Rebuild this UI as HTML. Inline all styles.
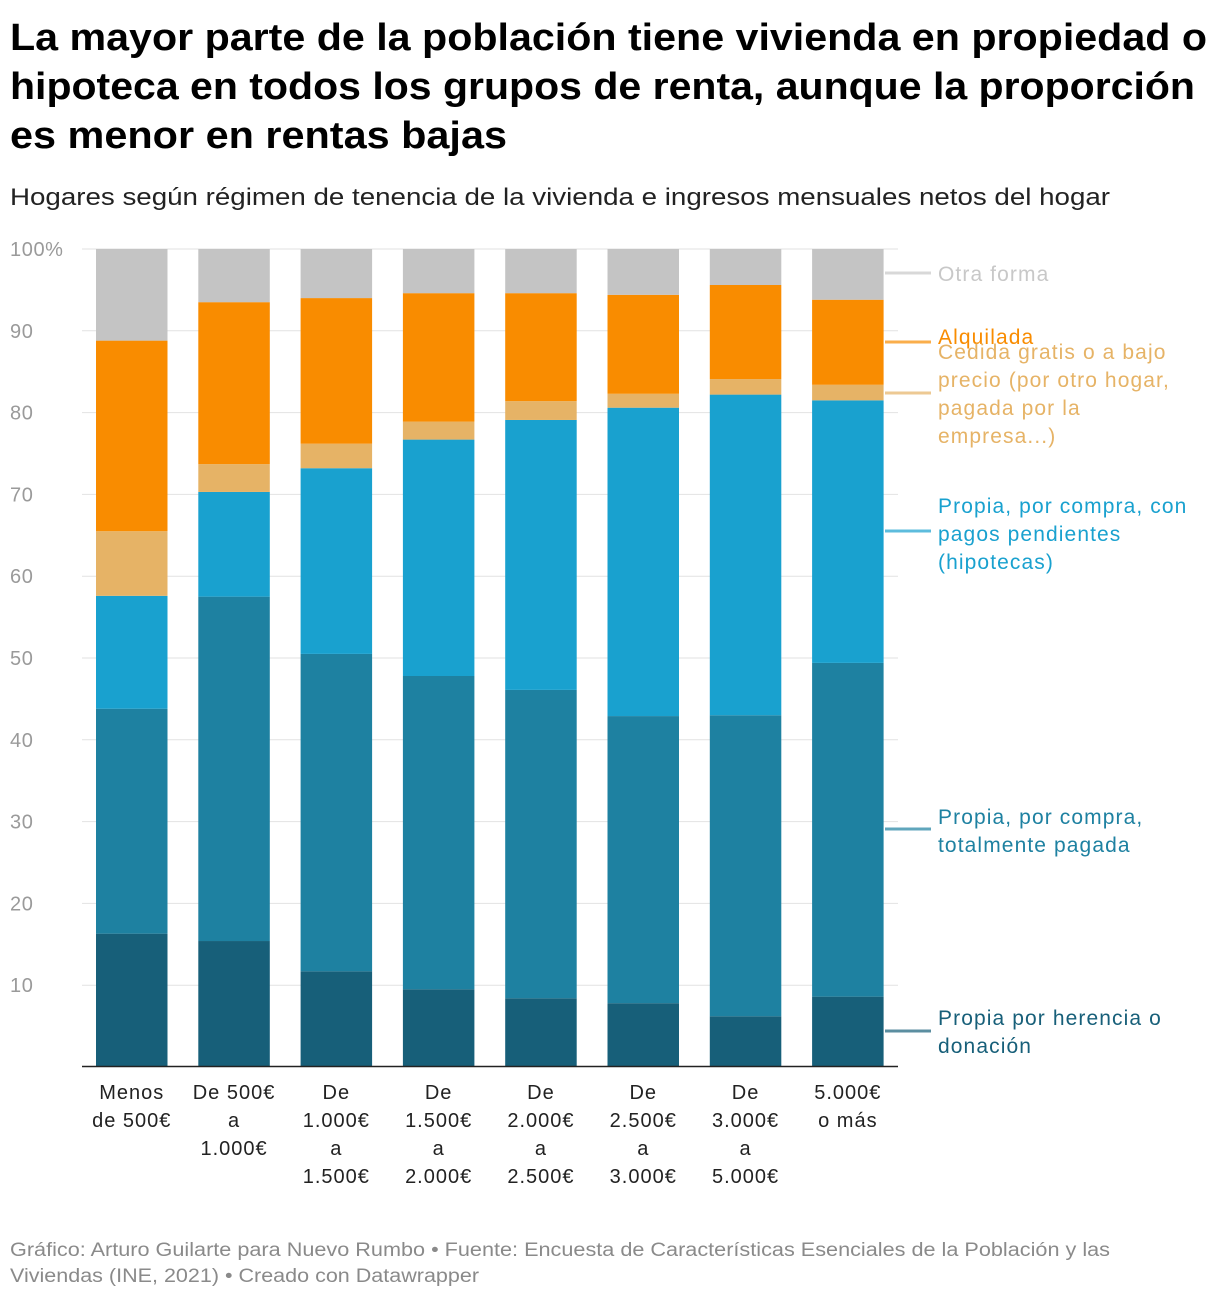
<!DOCTYPE html>
<html><head><meta charset="utf-8"><style>
body{margin:0;background:#fff;width:1220px;height:1298px;overflow:hidden;font-family:"Liberation Sans",sans-serif}
</style></head><body>
<svg id="c" width="1220" height="1298" xmlns="http://www.w3.org/2000/svg" font-family="Liberation Sans, sans-serif">
<g font-weight="bold" font-size="38" fill="#000">
<text x="10" y="50" textLength="1197" lengthAdjust="spacingAndGlyphs">La mayor parte de la población tiene vivienda en propiedad o</text>
<text x="10" y="99" textLength="1185" lengthAdjust="spacingAndGlyphs">hipoteca en todos los grupos de renta, aunque la proporción</text>
<text x="10" y="148" textLength="497" lengthAdjust="spacingAndGlyphs">es menor en rentas bajas</text>
</g>
<text x="10" y="205" font-size="24" fill="#222" textLength="1100" lengthAdjust="spacingAndGlyphs">Hogares según régimen de tenencia de la vivienda e ingresos mensuales netos del hogar</text>
<g id="grid"></g><g id="bars"></g><g id="xl"></g><g id="leg"></g>
<g font-size="19" fill="#8a8a8a">
<text x="10" y="1256" textLength="1100" lengthAdjust="spacingAndGlyphs">Gráfico: Arturo Guilarte para Nuevo Rumbo • Fuente: Encuesta de Características Esenciales de la Población y las</text>
<text x="10" y="1282" textLength="469" lengthAdjust="spacingAndGlyphs">Viviendas (INE, 2021) • Creado con Datawrapper</text>
</g>
</svg>
<script>
const categories=[["Menos","de 500€"],["De 500€","a","1.000€"],["De","1.000€","a","1.500€"],["De","1.500€","a","2.000€"],["De","2.000€","a","2.500€"],["De","2.500€","a","3.000€"],["De","3.000€","a","5.000€"],["5.000€","o más"]];
const herencia=[16.3,15.4,11.7,9.5,8.4,7.8,6.2,8.6];
const pagada=[27.5,42.1,38.8,38.3,37.7,35.1,36.8,40.8];
const hipoteca=[13.8,12.8,22.7,28.9,33.0,37.7,39.2,32.1];
const cedida=[7.9,3.4,3.0,2.2,2.3,1.7,1.9,1.9];
const alquilada=[23.3,19.8,17.8,15.7,13.2,12.1,11.5,10.4];
const otra=[11.2,6.5,6.0,5.4,5.4,5.6,4.4,6.2];
const yTicks=[10,20,30,40,50,60,70,80,90,100];
const NS="http://www.w3.org/2000/svg";
const y=v=>1067-v*8.18;
const x=i=>96+i*102.3;
const bw=71.5;
function el(t,a,p){const e=document.createElementNS(NS,t);for(const k in a)e.setAttribute(k,a[k]);p.appendChild(e);return e;}
const grid=document.getElementById('grid');
yTicks.forEach(t=>{
 const l=el('line',{x1:82,x2:898,y1:y(t),y2:y(t),stroke:'#e2e2e2','stroke-width':1},grid);
 
 
 const tx=el('text',{x:10,y:y(t)+7,'font-size':20,fill:'#9a9a9a','letter-spacing':0.6},grid);
 tx.textContent=t===100?'100%':t;
 
 
});
const series=[["herencia",herencia,"#175f79"],["pagada",pagada,"#1e81a1"],["hipoteca",hipoteca,"#19a1cf"],["cedida",cedida,"#e6b366"],["alquilada",alquilada,"#f98c00"],["otra",otra,"#c4c4c4"]];
const bars=document.getElementById('bars');
categories.forEach((c,i)=>{
 let cum=0;
 series.forEach(s=>{
  const v=s[1][i];
  const r=el('rect',{x:x(i),width:bw,y:y(cum+v),height:v*8.18,fill:s[2]},bars);
  
  
  cum+=v;
 });
 const g=el('text',{'font-size':20,fill:'#222','text-anchor':'middle','letter-spacing':1},document.getElementById('xl'));
 
 
 c.forEach((ln,j)=>{const t=el('tspan',{x:x(i)+bw/2,y:1099+j*28},g);t.textContent=ln;});
});
const base=el('line',{x1:82,x2:898,y1:1066.5,y2:1066.5,stroke:'#222','stroke-width':1.5},bars);


const legend=[["Otra forma","#c8c8c8",273,["Otra forma"],274],["Alquilada","#f98c00",342,["Alquilada"],337],["Cedida","#e6b366",393,["Cedida gratis o a bajo","precio (por otro hogar,","pagada por la","empresa...)"],352],["Hipoteca","#19a1cf",531,["Propia, por compra, con","pagos pendientes","(hipotecas)"],506],["Pagada","#1e81a1",829,["Propia, por compra,","totalmente pagada"],817],["Herencia","#175f79",1031,["Propia por herencia o","donación"],1018]];
const lg=document.getElementById('leg');
legend.forEach(L=>{
 const ln=el('line',{x1:885,x2:931,y1:L[2],y2:L[2],stroke:L[1],'stroke-width':3,opacity:0.7},lg);
 
 
 const t=el('text',{'font-size':21,fill:L[1],'letter-spacing':1.1},lg);
 
 
 L[3].forEach((s,j)=>{const sp=el('tspan',{x:938,y:L[4]+7+j*28},t);sp.textContent=s;});
});
</script>
</body></html>
